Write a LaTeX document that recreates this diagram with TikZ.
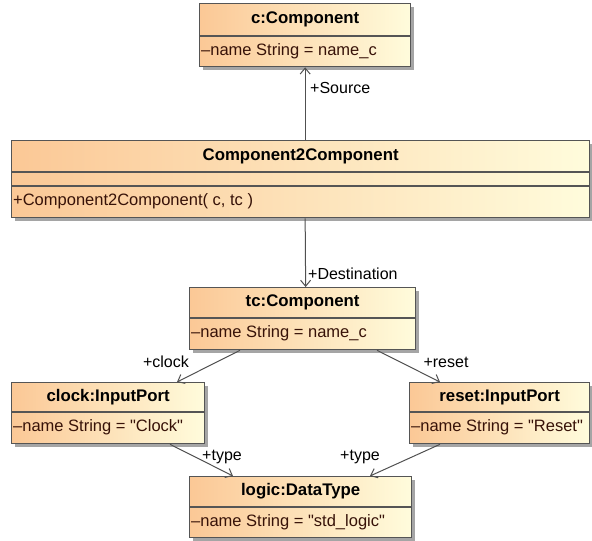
\documentclass[tikz,border=0pt]{standalone}
\usepackage{fontspec}
\newfontfamily\uifont{Liberation Sans}
\usetikzlibrary{arrows.meta,calc,shadows}
\definecolor{gradL}{RGB}{251,200,150}
\definecolor{gradR}{RGB}{255,252,220}
\definecolor{framec}{RGB}{85,85,85}
\definecolor{shadowc}{RGB}{165,165,165}
\definecolor{attrc}{RGB}{55,18,8}
\definecolor{wirec}{RGB}{80,80,80}
\tikzset{
  classbox/.style={draw=framec, line width=1.3pt, left color=gradL, right color=gradR,
    inner sep=0pt, anchor=north west,
    drop shadow={shadow xshift=3pt, shadow yshift=-3pt, fill=shadowc, opacity=1}},
  divider/.style={draw=framec, line width=1.3pt},
  headtext/.style={font=\uifont\fontsize{16.8}{19}\selectfont\bfseries, text=black, inner sep=0pt},
  attrtext/.style={font=\uifont\fontsize{16.5}{19}\selectfont, text=attrc, inner sep=0pt, anchor=west},
  rolelabel/.style={font=\uifont\fontsize{16}{19}\selectfont, text=black, inner sep=0pt},
  assoc/.style={draw=wirec, line width=1pt, -{Straight Barb[length=6pt,width=10pt]}}
}
\begin{document}
\begin{tikzpicture}[x=1pt,y=-1pt]
\useasboundingbox (0,0) rectangle (592,541);

% c:Component
\node[classbox, minimum width=211pt, minimum height=63pt] (c) at (199,3) {};
\draw[divider] ($(c.north west)+(0,33)$) -- ($(c.north east)+(0,33)$);
\node[headtext] (cT) at ($(c.north)+(0,16.5)$) {c:Component};
\node[attrtext] (cA) at ($(c.north west)+(2,48)$) {\textendash name String = name\_c};

% Component2Component
\node[classbox, minimum width=578pt, minimum height=77pt] (cc) at (11,140) {};
\draw[divider] ($(cc.north west)+(0,32)$) -- ($(cc.north east)+(0,32)$);
\draw[divider] ($(cc.north west)+(0,46)$) -- ($(cc.north east)+(0,46)$);
\node[headtext] (ccT) at ($(cc.north)+(0,16)$) {Component2Component};
\node[attrtext] (ccO) at ($(cc.north west)+(2,61.5)$) {+Component2Component( c, tc )};

% tc:Component
\node[classbox, minimum width=226pt, minimum height=62pt] (tc) at (189,287) {};
\draw[divider] ($(tc.north west)+(0,31)$) -- ($(tc.north east)+(0,31)$);
\node[headtext] (tcT) at ($(tc.north)+(0,15.5)$) {tc:Component};
\node[attrtext] (tcA) at ($(tc.north west)+(2,46.5)$) {\textendash name String = name\_c};

% clock:InputPort
\node[classbox, minimum width=193pt, minimum height=61pt] (clk) at (11,382) {};
\draw[divider] ($(clk.north west)+(0,30)$) -- ($(clk.north east)+(0,30)$);
\node[headtext] (clkT) at ($(clk.north)+(0,15)$) {clock:InputPort};
\node[attrtext] (clkA) at ($(clk.north west)+(2,45.5)$) {\textendash name String = "Clock"};

% reset:InputPort
\node[classbox, minimum width=180pt, minimum height=61pt] (rst) at (409,382) {};
\draw[divider] ($(rst.north west)+(0,30)$) -- ($(rst.north east)+(0,30)$);
\node[headtext] (rstT) at ($(rst.north)+(0,15)$) {reset:InputPort};
\node[attrtext] (rstA) at ($(rst.north west)+(2,45.5)$) {\textendash name String = "Reset"};

% logic:DataType
\node[classbox, minimum width=222pt, minimum height=61pt] (lg) at (189,476) {};
\draw[divider] ($(lg.north west)+(0,31)$) -- ($(lg.north east)+(0,31)$);
\node[headtext] (lgT) at ($(lg.north)+(0,15.5)$) {logic:DataType};
\node[attrtext] (lgA) at ($(lg.north west)+(2,46)$) {\textendash name String = "std\_logic"};

% connectors
\draw[assoc] (cc.north -| c.south) -- (c.south);
\draw[assoc] (cc.south -| c.south) -- ([xshift=3pt]tc.north);
\draw[assoc] ([xshift=51pt]tc.south west) -- ([xshift=166pt]clk.north west);
\draw[assoc] ([xshift=188pt]tc.south west) -- ([xshift=31pt]rst.north west);
\draw[assoc] ([xshift=159pt]clk.south west) -- ([xshift=44pt]lg.north west);
\draw[assoc] ([xshift=31pt]rst.south west) -- ([xshift=181pt]lg.north west);

% role labels
\node[rolelabel, anchor=west] (lSrc) at (310,88) {+Source};
\node[rolelabel, anchor=west] (lDst) at (308,274) {+Destination};
\node[rolelabel] (lClk) at (166,362) {+clock};
\node[rolelabel] (lRst) at (446,362) {+reset};
\node[rolelabel] (lT1) at (222,457) {+type};
\node[rolelabel] (lT2) at (360,457) {+type};
\end{tikzpicture}
\end{document}
